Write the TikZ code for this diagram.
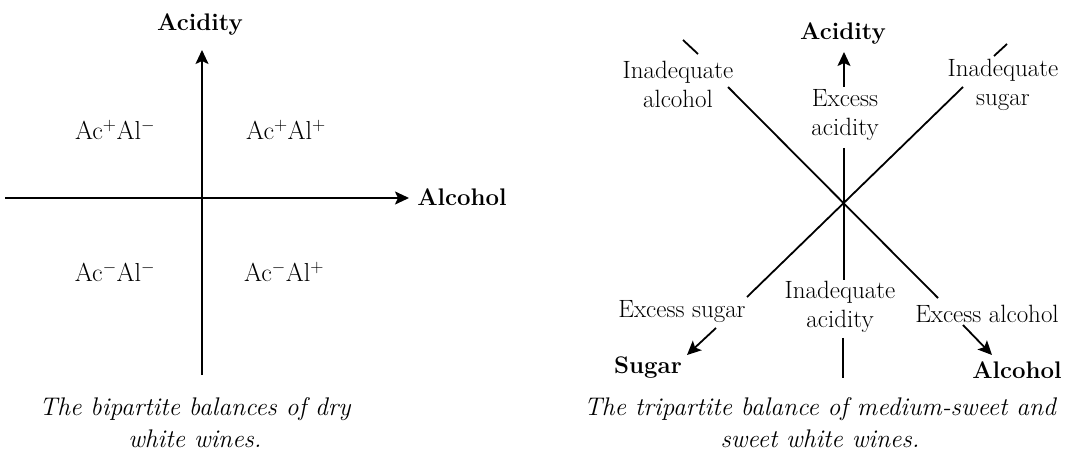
\documentclass[tikz,border=0pt]{standalone}
\usetikzlibrary{arrows.meta}
\begin{document}
\begin{tikzpicture}[x=1pt,y=-1pt,
  lbl/.style={inner sep=0pt,font=\fontsize{25}{29}\selectfont,align=center},
  qlbl/.style={inner sep=0pt,font=\fontsize{26}{29}\selectfont},
  blbl/.style={inner sep=0pt,font=\fontsize{24}{29}\selectfont\bfseries},
  captxt/.style={inner sep=0pt,font=\fontsize{25.5}{32}\selectfont\itshape,align=center},
  ln/.style={line width=1.8pt},
  arr/.style={line width=1.8pt,-{Stealth[length=14pt,width=13pt,inset=3pt]}}]
\useasboundingbox[fill=white] (0,0) rectangle (1080,457);
% ---------- left diagram ----------
\coordinate (vb) at (202,375);
\coordinate (vt) at (202,50);
\coordinate (hl) at (5,198);
\coordinate (hr) at (409,198);
\draw[arr] (vb) -- (vt);
\draw[arr] (hl) -- (hr);
\node[blbl] (lac) at (200,25) {Acidity};
\node[blbl] (lal) at (462,197) {Alcohol};
\node[qlbl] (q1) at (115,130) {Ac\textsuperscript{+}Al\textsuperscript{$-$}};
\node[qlbl] (q2) at (286,130) {Ac\textsuperscript{+}Al\textsuperscript{+}};
\node[qlbl] (q3) at (115,272) {Ac\textsuperscript{$-$}Al\textsuperscript{$-$}};
\node[qlbl] (q4) at (284,272) {Ac\textsuperscript{$-$}Al\textsuperscript{+}};
\node[captxt] (lcap) at (195,423) {The bipartite balances of dry\\white wines.};
% ---------- right diagram ----------
\node[blbl] (rac) at (843,34) {Acidity};
\node[lbl] (ia) at (678,84) {Inadequate\\alcohol};
\node[lbl] (is) at (1003,85) {Inadequate\\sugar};
\node[lbl] (ea) at (845,115) {Excess\\acidity};
\node[lbl] (iac) at (840,307) {Inadequate\\acidity};
\node[lbl] (es) at (682,312) {Excess sugar};
\node[lbl] (eal) at (987,314) {Excess alcohol};
\node[blbl] (rsu) at (648,368) {Sugar};
\node[blbl] (ral) at (1017,370) {Alcohol};
\node[captxt] (rcap) at (820,423) {The tripartite balance of medium-sweet and\\sweet white wines.};
% vertical
\coordinate (v0) at (844,87);
\coordinate (v1) at (844,52);
\coordinate (v2) at (844,148);
\coordinate (v3) at (844,280);
\coordinate (v4) at (843,338);
\coordinate (v5) at (843,378);
\draw[arr] (v0) -- (v1);
\draw[ln] (v2) -- (v3);
\draw[ln] (v4) -- (v5);
% diagonal 1 (top-left to bottom-right)
\coordinate (d1a) at (683,40);
\coordinate (d1b) at (698,54);
\coordinate (d1c) at (728,87);
\coordinate (d1d) at (938,298);
\coordinate (d1e) at (963,325);
\coordinate (d1f) at (992,355);
\draw[ln] (d1a) -- (d1b);
\draw[ln] (d1c) -- (d1d);
\draw[arr] (d1e) -- (d1f);
% diagonal 2 (top-right to bottom-left)
\coordinate (d2a) at (1007,44);
\coordinate (d2b) at (994,56);
\coordinate (d2c) at (963,87);
\coordinate (d2d) at (747,297);
\coordinate (d2e) at (716,328);
\coordinate (d2f) at (687,355);
\draw[ln] (d2a) -- (d2b);
\draw[ln] (d2c) -- (d2d);
\draw[arr] (d2e) -- (d2f);
\end{tikzpicture}
\end{document}
